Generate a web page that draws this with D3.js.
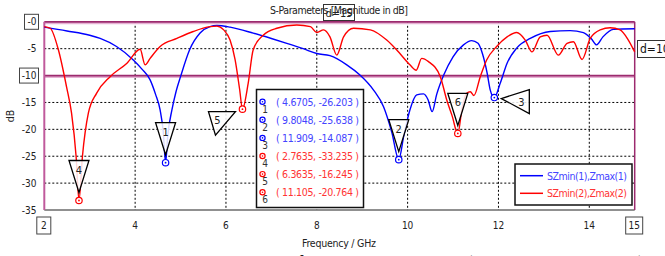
<!DOCTYPE html>
<html>
<head>
<meta charset="utf-8">
<script src="https://cdn.jsdelivr.net/npm/d3@7"></script>
<style>
  body { margin: 0; background: #fff; }
  svg { display: block; font-family: "DejaVu Sans Condensed", "DejaVu Sans", sans-serif; }
</style>
</head>
<body>
<svg id="chart" width="665" height="256"></svg>
<script>
// S-parameter magnitude
const blueFreq = [2.0, 2.5, 3.0, 3.23, 3.59, 3.96, 4.15, 4.33, 4.45, 4.55, 4.62, 4.6705, 4.72, 4.81, 4.9, 5.0, 5.2, 5.43, 5.65, 5.8, 6.09, 6.6, 7.0, 7.34, 7.7, 8.0, 8.29, 8.66, 8.95, 9.25, 9.47, 9.65, 9.8048, 9.92, 10.05, 10.2, 10.35, 10.45, 10.54, 10.64, 10.79, 11.0, 11.23, 11.41, 11.55, 11.65, 11.75, 11.82, 11.909, 12.04, 12.19, 12.4, 12.7, 13.14, 13.58, 13.87, 14.05, 14.16, 14.3, 14.53, 15.0];
const blueDb = [-1.0, -1.7, -2.5, -3.1, -4.6, -7.1, -8.8, -10.8, -13.5, -16.4, -20.5, -26.2, -21, -16.4, -13, -10.2, -5.2, -2.1, -0.9, -0.7, -1.0, -2.1, -3.1, -4.0, -5.0, -5.9, -6.3, -8.0, -9.9, -12.7, -15.8, -20.5, -25.6, -21, -16.4, -13.6, -13.4, -14.5, -16.7, -13.5, -10, -6.5, -4.3, -3.5, -4.0, -6.0, -9.5, -12.7, -14.1, -11.4, -7.7, -4.9, -3.1, -1.8, -1.65, -2.0, -3.2, -4.3, -2.8, -1.4, -1.3];

const redFreq = [2.0, 2.13, 2.31, 2.49, 2.6, 2.7, 2.7635, 2.84, 2.97, 3.15, 3.45, 3.82, 4.11, 4.22, 4.33, 4.55, 4.92, 5.28, 5.65, 5.8, 5.95, 6.09, 6.2, 6.3, 6.3635, 6.49, 6.6, 6.82, 7.12, 7.56, 7.86, 8.0, 8.15, 8.29, 8.44, 8.59, 8.81, 9.18, 9.54, 9.83, 10.05, 10.19, 10.31, 10.46, 10.72, 10.86, 10.98, 11.105, 11.2, 11.3, 11.38, 11.46, 11.6, 11.74, 11.96, 12.19, 12.4, 12.59, 12.74, 12.92, 13.07, 13.32, 13.51, 13.65, 13.84, 14.02, 14.24, 14.46, 14.68, 14.86, 15.0];
const redDb = [-0.9, -1.2, -5.2, -12.1, -17, -25, -33.2, -25, -17, -13.3, -10.2, -7.7, -5.1, -8.0, -6.8, -4.6, -3.1, -1.8, -0.9, -0.8, -1.5, -3.4, -7, -12.5, -16.2, -11.4, -5.2, -2.5, -1.2, -0.6, -0.9, -2.0, -1.5, -2.8, -6.2, -2.8, -1.2, -1.5, -3.4, -5.9, -8.0, -9.0, -6.8, -7.4, -10.2, -14.5, -17.5, -20.8, -16, -13.3, -13.0, -13.7, -10.2, -7.1, -4.6, -2.8, -2.0, -3.4, -5.6, -2.8, -2.5, -6.2, -4.0, -3.7, -7.0, -3.1, -1.5, -1.1, -1.5, -3.4, -5.6];

const markerIds = [1, 2, 3, 4, 5, 6];
const markerFreq = [4.6705, 9.8048, 11.909, 2.7635, 6.3635, 11.105];
const markerDb = [-26.203, -25.638, -14.087, -33.235, -16.245, -20.764];
const markerSeries = [0, 0, 0, 1, 1, 1];
const markerShape = ['down', 'down', 'left', 'down', 'slant', 'down'];

const seriesNames = ['SZmin(1),Zmax(1)', 'SZmin(2),Zmax(2)'];
const seriesColors = ['#0000ff', '#ff0000'];
const textColors = ['#4444ff', '#ff3333'];

const xTicks = [2, 4, 6, 8, 10, 12, 14, 15];
const yTicks = [0, -5, -10, -15, -20, -25, -30, -35];
const boxedX = [2, 15];
const boxedY = [0, -10];

const svg = d3.select('#chart');
const x = d3.scaleLinear().domain([2, 15]).range([44.3, 634.7]);
const y = d3.scaleLinear().domain([-35, 0]).range([210, 21.8]);

const purple = '#9c2a6e';

// grid
const grid = svg.append('g');
grid.selectAll('line.vg')
  .data(xTicks.filter(t => t > 2 && t < 15))
  .join('line')
  .attr('x1', d => x(d)).attr('x2', d => x(d))
  .attr('y1', y(0)).attr('y2', y(-35))
  .attr('stroke', '#000').attr('stroke-width', 1)
  .attr('stroke-dasharray', '2,2');
grid.selectAll('line.hg')
  .data(yTicks.filter(t => t !== 0 && t !== -10 && t !== -35))
  .join('line')
  .attr('x1', x(2)).attr('x2', x(15))
  .attr('y1', d => y(d)).attr('y2', d => y(d))
  .attr('stroke', '#000').attr('stroke-width', 1)
  .attr('stroke-dasharray', '2,2');

// limit lines (0 dB top and -10 dB)
[0, -10].forEach(v => {
  svg.append('line')
    .attr('x1', x(2)).attr('x2', x(15))
    .attr('y1', y(v) + 1.5).attr('y2', y(v) + 1.5)
    .attr('stroke', '#e6b2d4').attr('stroke-width', 2);
  svg.append('line')
    .attr('x1', x(2)).attr('x2', x(15))
    .attr('y1', y(v)).attr('y2', y(v))
    .attr('stroke', purple).attr('stroke-width', 1.8);
});

// frame
svg.append('line')
  .attr('x1', x(2)).attr('x2', x(15))
  .attr('y1', y(-35)).attr('y2', y(-35))
  .attr('stroke', '#222').attr('stroke-width', 1.2);
svg.append('line')
  .attr('x1', x(2)).attr('x2', x(2))
  .attr('y1', y(0)).attr('y2', y(-35))
  .attr('stroke', '#c05a9c').attr('stroke-width', 2);
svg.append('line')
  .attr('x1', x(15)).attr('x2', x(15))
  .attr('y1', y(0)).attr('y2', y(-35))
  .attr('stroke', purple).attr('stroke-width', 1.5);

// curves
const line = d3.line()
  .x(d => x(d[0]))
  .y(d => y(d[1]))
  .curve(d3.curveMonotoneX);

const series = [d3.zip(blueFreq, blueDb), d3.zip(redFreq, redDb)];
series.forEach((s, i) => {
  svg.append('path')
    .datum(s)
    .attr('d', line)
    .attr('fill', 'none')
    .attr('stroke', seriesColors[i])
    .attr('stroke-width', 1.4);
});

// tick labels
const tickFont = 10;
svg.append('g').selectAll('text')
  .data(yTicks)
  .join('text')
  .attr('x', 36.5)
  .attr('y', d => y(d) + 3.5)
  .attr('text-anchor', 'end')
  .attr('font-size', tickFont)
  .attr('fill', '#222')
  .text(d => d === 0 ? '-0' : d);
boxedY.forEach(v => {
  const w = v === 0 ? 14 : 19;
  svg.append('rect')
    .attr('x', 38.5 - w).attr('y', y(v) - 7.5)
    .attr('width', w).attr('height', 15)
    .attr('fill', 'none').attr('stroke', '#444').attr('stroke-width', 1);
});

svg.append('g').selectAll('text')
  .data(xTicks)
  .join('text')
  .attr('x', d => x(d) + (d === 2 ? -0.5 : d === 15 ? -0.5 : 0))
  .attr('y', 229)
  .attr('text-anchor', 'middle')
  .attr('font-size', tickFont)
  .attr('fill', '#222')
  .text(d => d);
boxedX.forEach(v => {
  const w = v === 2 ? 14 : 17;
  svg.append('rect')
    .attr('x', x(v) - w / 2 - 0.5).attr('y', 217)
    .attr('width', w).attr('height', 17)
    .attr('fill', 'none').attr('stroke', '#444').attr('stroke-width', 1);
});

// titles
svg.append('text')
  .attr('x', 270).attr('y', 14)
  .attr('textLength', 138)
  .attr('font-size', 10.5).attr('fill', '#222')
  .text('S-Parameters [Magnitude in dB]');
svg.append('rect')
  .attr('x', 323.5).attr('y', 4.5).attr('width', 31).attr('height', 16)
  .attr('fill', 'none').attr('stroke', '#333');
svg.append('text')
  .attr('x', 339).attr('y', 17)
  .attr('text-anchor', 'middle')
  .attr('font-size', 11).attr('fill', '#222')
  .text('d=15');

svg.append('rect')
  .attr('x', 637.5).attr('y', 40.5).attr('width', 30).attr('height', 17)
  .attr('fill', '#fff').attr('stroke', '#333');
svg.append('text')
  .attr('x', 640).attr('y', 53)
  .attr('font-size', 12).attr('fill', '#111')
  .text('d=10');

svg.append('text')
  .attr('transform', `translate(14,${(y(0) + y(-35)) / 2}) rotate(-90)`)
  .attr('text-anchor', 'middle')
  .attr('font-size', 10.5).attr('fill', '#222')
  .text('dB');

svg.append('text')
  .attr('x', 302).attr('y', 247)
  .attr('textLength', 74)
  .attr('font-size', 10.5).attr('fill', '#222')
  .text('Frequency / GHz');

// markers on curves
const mk = svg.append('g');
markerIds.forEach((id, i) => {
  const px = x(markerFreq[i]), py = y(markerDb[i]);
  const c = seriesColors[markerSeries[i]];
  mk.append('circle').attr('cx', px).attr('cy', py).attr('r', 3.2)
    .attr('fill', '#fff').attr('stroke', c).attr('stroke-width', 1.2);
  mk.append('circle').attr('cx', px).attr('cy', py).attr('r', 0.9).attr('fill', c);

  let pts, lx, ly;
  if (markerShape[i] === 'down') {
    pts = [[px - 10, py - 40], [px + 10, py - 40], [px, py - 8]];
    lx = px; ly = py - 27;
  } else if (markerShape[i] === 'left') {
    pts = [[px + 7, py + 1], [px + 35, py - 8], [px + 35, py + 16]];
    lx = px + 27; ly = py + 8;
  } else {
    pts = [[px - 34, py + 2.5], [px - 7, py + 2.5], [px - 27, py + 26]];
    lx = px - 25; ly = py + 15;
  }
  mk.append('polygon')
    .attr('points', pts.map(p => p.join(',')).join(' '))
    .attr('fill', '#fff').attr('fill-opacity', 0.85)
    .attr('stroke', '#000').attr('stroke-width', 1.3);
  mk.append('text')
    .attr('x', lx).attr('y', ly)
    .attr('text-anchor', 'middle')
    .attr('font-size', 11).attr('fill', '#222')
    .text(id);
});

// marker table
const tbl = svg.append('g');
tbl.append('rect')
  .attr('x', 256.5).attr('y', 89.5).attr('width', 107).attr('height', 118)
  .attr('fill', '#fff').attr('stroke', '#111').attr('stroke-width', 1.5);
markerIds.forEach((id, i) => {
  const ry = 101.7 + i * 18.1;
  const c = seriesColors[markerSeries[i]];
  tbl.append('circle').attr('cx', 262.5).attr('cy', ry).attr('r', 2.6)
    .attr('fill', 'none').attr('stroke', c).attr('stroke-width', 1.2);
  tbl.append('circle').attr('cx', 262.5).attr('cy', ry).attr('r', 0.8).attr('fill', c);
  tbl.append('text')
    .attr('x', 265).attr('y', ry + 11)
    .attr('text-anchor', 'middle')
    .attr('font-size', 10).attr('fill', '#333')
    .text(id);
  tbl.append('text')
    .attr('x', 276).attr('y', ry + 4)
    .attr('textLength', 83)
    .attr('font-size', 10.5)
    .attr('fill', textColors[markerSeries[i]])
    .text(`( ${markerFreq[i]}, ${markerDb[i]} )`);
});

// legend
const lg = svg.append('g');
lg.append('rect')
  .attr('x', 515).attr('y', 164).attr('width', 117).attr('height', 41)
  .attr('fill', '#fff').attr('stroke', '#111').attr('stroke-width', 1.5);
seriesNames.forEach((n, i) => {
  const ly = 175.7 + i * 17.6;
  lg.append('line').attr('x1', 520).attr('x2', 543).attr('y1', ly).attr('y2', ly)
    .attr('stroke', seriesColors[i]).attr('stroke-width', 1.5);
  lg.append('text').attr('x', 547).attr('y', ly + 4)
    .attr('textLength', 80)
    .attr('font-size', 10.5).attr('fill', textColors[i])
    .text(n);
});

// figure caption, cut off by the bottom edge
svg.append('text')
  .attr('x', 38).attr('y', 270)
  .attr('textLength', 607)
  .attr('font-family', '"Liberation Serif", serif')
  .attr('font-size', 20).attr('fill', '#111')
  .text('Figure 3: Frequency graph for MTR antenna (TE and TM mode)');
</script>
</body>
</html>
